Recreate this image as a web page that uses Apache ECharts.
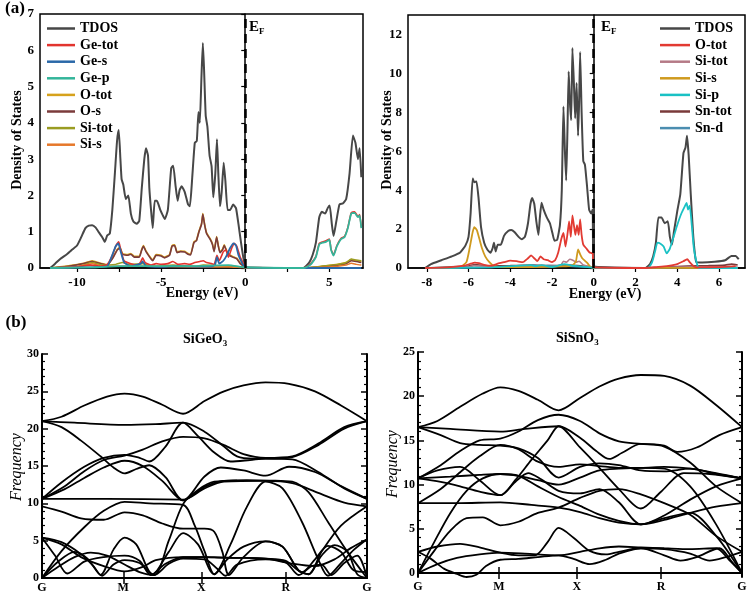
<!DOCTYPE html>
<html><head><meta charset="utf-8">
<script src="https://cdn.jsdelivr.net/npm/echarts@6/dist/echarts.min.js"></script>
<style>html,body{margin:0;padding:0;background:#fff}#c{width:750px;height:594px}</style>
</head><body><div id="c"></div>
<script>
// ---------- (a) SiGeO3 DOS : [energy eV, states] ----------
const tdosGe = [[-11.6,0],[-11.3,0.12],[-11.0,0.25],[-10.6,0.38],[-10.3,0.5],[-10.0,0.62],[-9.75,0.85],[-9.5,1.1],[-9.3,1.17],[-9.1,1.18],[-8.9,1.12],[-8.7,0.98],[-8.5,0.85],[-8.35,0.72],[-8.2,0.9],[-8.05,0.95],[-7.9,1.6],[-7.75,2.6],[-7.62,3.5],[-7.52,3.8],[-7.42,3.0],[-7.35,2.45],[-7.25,2.3],[-7.1,1.9],[-6.95,2.0],[-6.8,1.5],[-6.65,1.28],[-6.45,1.22],[-6.3,1.3],[-6.15,2.2],[-6.0,3.0],[-5.9,3.3],[-5.78,3.1],[-5.7,2.2],[-5.6,1.6],[-5.5,1.1],[-5.38,1.85],[-5.25,1.85],[-5.05,1.6],[-4.9,1.45],[-4.78,1.35],[-4.6,1.6],[-4.4,2.75],[-4.28,2.82],[-4.15,2.3],[-4.02,1.85],[-3.9,2.15],[-3.78,2.25],[-3.6,2.1],[-3.4,1.75],[-3.29,1.7],[-3.15,2.5],[-3.0,3.45],[-2.88,3.5],[-2.78,4.3],[-2.7,4.0],[-2.6,5.3],[-2.52,6.2],[-2.45,5.5],[-2.35,4.2],[-2.25,3.9],[-2.12,3.1],[-2.0,2.8],[-1.9,1.95],[-1.78,2.6],[-1.68,3.55],[-1.6,2.6],[-1.5,1.7],[-1.4,2.1],[-1.28,2.9],[-1.18,2.4],[-1.05,1.6],[-0.9,1.6],[-0.72,1.75],[-0.55,1.65],[-0.4,1.2],[-0.25,0.7],[-0.1,0.25],[0,0.05],[0.1,0],[3.45,0],[3.8,0.15],[4.0,0.35],[4.2,0.7],[4.4,1.4],[4.55,1.55],[4.75,1.5],[4.9,1.65],[5.02,1.72],[5.15,1.2],[5.25,0.88],[5.4,1.25],[5.6,1.75],[5.8,1.78],[6.0,1.9],[6.2,2.6],[6.4,3.65],[6.55,3.45],[6.7,3.0],[6.8,3.3],[6.9,2.5]];
const geTot = [[-11.6,0],[-10,0.03],[-9.2,0.08],[-8.6,0.05],[-8.2,0.1],[-7.9,0.35],[-7.65,0.65],[-7.52,0.72],[-7.4,0.5],[-7.2,0.2],[-6.8,0.12],[-6.4,0.08],[-6.2,0.18],[-6.1,0.28],[-5.95,0.15],[-5.6,0.08],[-5.3,0.12],[-5.0,0.1],[-4.6,0.12],[-4.3,0.18],[-4.0,0.1],[-3.6,0.12],[-3.3,0.1],[-3.0,0.15],[-2.7,0.18],[-2.5,0.2],[-2.3,0.15],[-2.0,0.12],[-1.85,0.1],[-1.68,0.35],[-1.55,0.2],[-1.3,0.45],[-1.15,0.5],[-1.0,0.3],[-0.8,0.55],[-0.65,0.68],[-0.5,0.6],[-0.3,0.3],[-0.1,0.12],[0,0.05],[0.1,0],[3.45,0],[3.6,0.02],[3.9,0.12],[4.2,0.32],[4.4,0.68],[4.6,0.72],[4.8,0.75],[5.0,0.8],[5.1,0.52],[5.25,0.36],[5.45,0.62],[5.7,0.82],[5.9,0.87],[6.1,1.12],[6.3,1.52],[6.5,1.55],[6.7,1.42],[6.8,1.47],[6.9,1.12]];
const geS = [[-11.6,0],[-9,0.02],[-8.2,0.05],[-7.95,0.3],[-7.7,0.6],[-7.55,0.68],[-7.4,0.45],[-7.2,0.15],[-6.8,0.05],[-6.2,0.12],[-6.1,0.18],[-5.9,0.05],[-5,0.03],[-4.3,0.05],[-3,0.04],[-2,0.04],[-1.8,0.08],[-1.68,0.3],[-1.55,0.12],[-1.3,0.2],[-1.1,0.35],[-0.9,0.55],[-0.7,0.68],[-0.55,0.62],[-0.4,0.35],[-0.2,0.15],[0,0.02],[6.9,0]];
const geP = [[-11.6,0],[-9,0.02],[-7.5,0.05],[-6,0.05],[-4,0.05],[-2.5,0.06],[-1,0.08],[0,0.02],[3.5,0],[3.9,0.1],[4.2,0.3],[4.4,0.65],[4.6,0.7],[4.8,0.72],[5.0,0.78],[5.1,0.5],[5.25,0.34],[5.45,0.6],[5.7,0.8],[5.9,0.85],[6.1,1.1],[6.3,1.5],[6.5,1.52],[6.7,1.4],[6.8,1.45],[6.9,1.1]];
const oTotGe = [[-11.6,0],[-10.5,0.06],[-9.6,0.13],[-9.1,0.2],[-8.6,0.13],[-8.2,0.09],[-7.9,0.27],[-7.6,0.52],[-7.45,0.57],[-7.3,0.4],[-7.0,0.37],[-6.8,0.4],[-6.6,0.32],[-6.3,0.32],[-6.15,0.52],[-6.05,0.62],[-5.9,0.47],[-5.6,0.27],[-5.5,0.22],[-5.3,0.37],[-5.0,0.35],[-4.8,0.3],[-4.5,0.37],[-4.35,0.62],[-4.2,0.64],[-4.05,0.44],[-3.85,0.47],[-3.6,0.46],[-3.4,0.4],[-3.25,0.38],[-3.05,0.72],[-2.9,0.77],[-2.75,1.02],[-2.6,1.22],[-2.52,1.5],[-2.42,1.22],[-2.3,0.97],[-2.1,0.82],[-1.95,0.67],[-1.85,0.47],[-1.7,0.87],[-1.6,0.62],[-1.5,0.44],[-1.35,0.52],[-1.25,0.64],[-1.1,0.47],[-0.95,0.37],[-0.75,0.32],[-0.5,0.27],[-0.3,0.14],[-0.1,0.06],[0,0.02],[3.5,0],[4.5,0.04],[5.5,0.1],[6.0,0.15],[6.3,0.23],[6.6,0.2],[6.9,0.18]];
const oSGe = [[-11.6,0],[-10.5,0.05],[-9.6,0.12],[-9.1,0.18],[-8.6,0.12],[-8.2,0.08],[-7.9,0.25],[-7.6,0.5],[-7.45,0.55],[-7.3,0.38],[-7.0,0.35],[-6.8,0.38],[-6.6,0.3],[-6.3,0.3],[-6.15,0.5],[-6.05,0.6],[-5.9,0.45],[-5.6,0.25],[-5.5,0.2],[-5.3,0.35],[-5.0,0.33],[-4.8,0.28],[-4.5,0.35],[-4.35,0.6],[-4.2,0.62],[-4.05,0.42],[-3.85,0.45],[-3.6,0.44],[-3.4,0.38],[-3.25,0.36],[-3.05,0.7],[-2.9,0.75],[-2.75,1.0],[-2.6,1.2],[-2.52,1.48],[-2.42,1.2],[-2.3,0.95],[-2.1,0.8],[-1.95,0.65],[-1.85,0.45],[-1.7,0.85],[-1.6,0.6],[-1.5,0.42],[-1.35,0.5],[-1.25,0.62],[-1.1,0.45],[-0.95,0.35],[-0.75,0.3],[-0.5,0.25],[-0.3,0.12],[-0.1,0.05],[0,0.02],[3.5,0],[4.5,0.03],[5.5,0.08],[6.0,0.12],[6.3,0.2],[6.6,0.18],[6.9,0.15]];
const siTotGe = [[-11.6,0],[-10,0.03],[-9.1,0.15],[-8.5,0.08],[-7.7,0.1],[-7.3,0.15],[-6.9,0.1],[-6.1,0.12],[-5.5,0.05],[-4.3,0.08],[-3,0.05],[-2.5,0.08],[-1.5,0.06],[-0.6,0.05],[0,0.01],[3.6,0],[4.5,0.05],[5.5,0.1],[6.0,0.15],[6.3,0.25],[6.6,0.22],[6.9,0.2]];
const siSGe = [[-11.6,0],[-10,0.04],[-9.1,0.12],[-8.5,0.06],[-7.5,0.05],[-6.5,0.05],[-5,0.04],[-3,0.03],[-1,0.03],[0,0.01],[3.6,0],[4.5,0.02],[5.5,0.05],[6.0,0.08],[6.3,0.13],[6.6,0.1],[6.9,0.08]];

// ---------- (a) SiSnO3 DOS ----------
const tdosSn = [[-8.08,0],[-7.8,0.2],[-7.3,0.4],[-6.8,0.6],[-6.4,0.8],[-6.15,1.15],[-6.0,1.6],[-5.9,2.8],[-5.8,4.6],[-5.72,4.4],[-5.62,4.45],[-5.52,3.6],[-5.4,2.1],[-5.25,1.3],[-5.1,0.95],[-4.95,0.78],[-4.85,1.0],[-4.78,1.3],[-4.7,0.85],[-4.6,1.2],[-4.45,1.2],[-4.3,1.65],[-4.1,1.9],[-3.95,1.95],[-3.8,1.85],[-3.6,1.6],[-3.45,1.48],[-3.3,1.6],[-3.15,2.3],[-3.03,3.3],[-2.95,3.6],[-2.85,3.3],[-2.75,2.4],[-2.65,1.7],[-2.58,2.6],[-2.5,3.35],[-2.4,3.0],[-2.25,2.6],[-2.1,2.3],[-1.98,1.8],[-1.88,1.4],[-1.75,1.45],[-1.62,2.2],[-1.53,4.0],[-1.45,8.3],[-1.38,6.0],[-1.32,4.5],[-1.26,7.0],[-1.2,10.1],[-1.14,8.5],[-1.08,7.6],[-1.02,11.3],[-0.95,9.5],[-0.89,7.7],[-0.82,9.5],[-0.75,6.8],[-0.7,8.5],[-0.65,11.1],[-0.58,8.0],[-0.5,5.5],[-0.42,5.3],[-0.32,4.2],[-0.22,3.0],[-0.12,2.8],[-0.05,3.0],[0,0.1],[2.48,0],[2.7,0.2],[2.85,0.6],[2.98,1.3],[3.1,2.6],[3.25,2.6],[3.4,2.3],[3.55,2.4],[3.65,1.6],[3.75,1.2],[3.85,1.9],[4.0,2.9],[4.15,3.8],[4.3,5.9],[4.4,6.2],[4.47,6.8],[4.55,5.8],[4.65,3.8],[4.78,1.5],[4.92,0.3],[5.2,0.28],[5.8,0.32],[6.3,0.4],[6.6,0.62],[6.8,0.62],[6.95,0.45]];
const oTotSn = [[-8.08,0],[-7,0.03],[-6.2,0.12],[-5.9,0.22],[-5.7,0.28],[-5.5,0.25],[-5.2,0.15],[-4.9,0.12],[-4.6,0.22],[-4.3,0.3],[-4.0,0.38],[-3.7,0.35],[-3.4,0.3],[-3.15,0.5],[-3.0,0.65],[-2.85,0.5],[-2.7,0.35],[-2.55,0.6],[-2.4,0.45],[-2.2,0.4],[-2.0,0.3],[-1.85,0.4],[-1.7,0.8],[-1.55,1.5],[-1.45,1.8],[-1.35,1.1],[-1.25,1.8],[-1.18,2.4],[-1.1,1.6],[-1.02,2.7],[-0.95,2.2],[-0.88,1.7],[-0.8,2.2],[-0.72,1.7],[-0.65,2.5],[-0.58,1.7],[-0.5,1.2],[-0.35,1.0],[-0.2,0.8],[-0.05,0.75],[0,0.05],[2.5,0],[3.0,0.05],[3.5,0.1],[4.0,0.2],[4.3,0.35],[4.48,0.45],[4.6,0.3],[4.8,0.08],[5.0,0.03],[6.0,0.05],[6.8,0.1]];
const siTotSn = [[-8.08,0],[-6,0.05],[-5.75,0.12],[-5.5,0.1],[-4,0.05],[-3,0.08],[-2.5,0.06],[-1.6,0.1],[-1.45,0.35],[-1.3,0.3],[-1.15,0.45],[-1.0,0.4],[-0.85,0.3],[-0.7,0.35],[-0.5,0.15],[0,0.02],[2.6,0],[4,0.05],[6,0.05],[6.9,0.05]];
const siSSn = [[-8.08,0],[-6.4,0.05],[-6.1,0.3],[-5.95,1.0],[-5.8,1.85],[-5.72,2.1],[-5.6,1.95],[-5.48,1.5],[-5.35,1.0],[-5.2,0.6],[-5.0,0.3],[-4.8,0.12],[-4.5,0.05],[-3,0.05],[-1.5,0.08],[-1.0,0.15],[-0.85,0.35],[-0.75,0.95],[-0.65,0.7],[-0.55,0.5],[-0.45,0.4],[-0.3,0.25],[-0.15,0.05],[0,0.02],[6.9,0]];
const siPSn = [[-8.08,0],[-5,0.03],[-3,0.15],[-2.8,0.1],[-2.5,0.15],[-2,0.05],[-1.4,0.2],[-1,0.12],[0,0.02],[2.6,0],[2.8,0.3],[2.95,0.9],[3.05,1.3],[3.2,1.25],[3.35,1.1],[3.5,0.75],[3.65,1.0],[3.8,1.5],[4.0,2.2],[4.2,2.8],[4.38,3.2],[4.45,3.35],[4.52,3.0],[4.6,3.2],[4.7,2.2],[4.8,1.0],[4.95,0.2],[5.05,0],[6.9,0]];
const snTot = [[-8.08,0],[-7,0.05],[-6,0.1],[-5.7,0.18],[-5,0.1],[-4,0.12],[-3,0.15],[-2,0.12],[-1.2,0.15],[-0.5,0.1],[0,0.05],[2.5,0],[3.5,0.05],[4.5,0.1],[5.5,0.12],[6.3,0.15],[6.6,0.2],[6.9,0.15]];
const snD = [[-8.08,0],[-6,0.02],[-4,0.05],[-3.2,0.1],[-2.9,0.15],[-2.6,0.1],[-2.2,0.12],[-1.5,0.1],[-1,0.08],[0,0.02],[6.9,0]];

// ---------- (b) phonon dispersions : [path position 0..1, frequency] ----------
const kTickPos = [0, 0.25, 0.49, 0.75, 1];
const kTickLab = ['G', 'M', 'X', 'R', 'G'];
const bandsGe = [
 [[0,21],[.06,21.6],[.13,23.1],[.2,24.3],[.254,24.7],[.31,24.3],[.37,23.2],[.434,22.0],[.5,23.7],[.56,25.0],[.62,25.8],[.688,26.2],[.76,26.0],[.84,25.0],[.92,23.1],[1,21]],
 [[0,21],[.1,20.8],[.254,20.5],[.35,20.6],[.434,20.8],[.5,19.6],[.56,17.6],[.6,16.3],[.65,16.0],[.688,16.0],[.77,16.2],[.85,17.8],[.93,20.0],[1,21]],
 [[0,21],[.06,20.2],[.12,18.4],[.18,16.3],[.22,14.8],[.254,14.0],[.29,14.6],[.33,15.1],[.38,13.5],[.434,10.4],[.5,12.2],[.56,13.0],[.63,13.1],[.7,13.05],[.77,12.9],[.82,11.5],[.88,7.5],[.94,3.5],[1,0]],
 [[0,10.6],[.06,12.8],[.13,14.9],[.19,16.1],[.254,16.5],[.3,16.1],[.33,15.6],[.38,17.6],[.434,20.8],[.48,19.0],[.53,16.8],[.58,15.6],[.64,15.8],[.688,16.0],[.77,15.9],[.85,14.2],[.93,12.0],[1,10.6]],
 [[0,10.6],[.07,12.3],[.13,14.3],[.19,15.8],[.254,16.4],[.31,17.2],[.37,18.3],[.434,18.9],[.5,18.7],[.56,17.8],[.62,16.6],[.688,16.1],[.77,16.3],[.85,18.0],[.93,20.2],[1,21]],
 [[0,10.6],[.07,11.9],[.13,13.4],[.19,14.8],[.254,15.7],[.31,15.0],[.37,13.0],[.434,10.4],[.5,13.6],[.55,14.8],[.62,14.4],[.688,13.7],[.76,14.9],[.84,14.2],[.92,12.3],[1,10.6]],
 [[0,10.6],[.2,10.6],[.434,10.5],[.5,12.0],[.56,12.9],[.688,13.0],[.77,12.7],[.85,11.4],[.93,10.1],[1,9.6]],
 [[0,0],[.06,3.6],[.13,6.8],[.19,9.0],[.254,10.2],[.33,10.0],[.434,9.8],[.47,7.0],[.5,3.6],[.53,0.5],[.58,4.5],[.63,9.5],[.688,12.9],[.74,12.0],[.8,7.5],[.85,2.5],[.88,0.3],[.92,2.0],[.96,3.8],[1,5.2]],
 [[0,9.6],[.06,8.9],[.12,8.0],[.19,7.8],[.254,8.8],[.31,8.4],[.37,7.3],[.434,6.6],[.5,6.6],[.53,6.2],[.555,3.5],[.575,0.4],[.62,2.8],[.688,4.9],[.74,4.2],[.79,1.0],[.82,0.5],[.86,3.5],[.92,7.0],[1,9.6]],
 [[0,5.4],[.06,4.8],[.12,3.2],[.16,1.5],[.18,0.4],[.22,3.8],[.254,5.4],[.29,4.5],[.34,0.5],[.39,3.5],[.434,6.0],[.48,4.5],[.53,0.5],[.57,2.5],[.62,4.2],[.688,4.9],[.74,4.2],[.79,1.0],[.82,0.5],[.86,3.0],[.9,4.4],[.94,3.5],[.97,0.5],[1,0]],
 [[0,5.4],[.04,3.0],[.078,0.6],[.13,2.2],[.19,2.8],[.254,3.0],[.3,2.3],[.335,0.4],[.38,1.9],[.434,2.8],[.5,2.8],[.56,2.7],[.62,2.7],[.688,2.6],[.75,2.3],[.8,0.8],[.84,2.5],[.88,4.3],[.92,3.5],[.96,1.0],[1,0.8]],
 [[0,5.4],[.06,4.5],[.12,2.8],[.19,1.6],[.254,0.9],[.31,1.5],[.35,2.4],[.434,2.8],[.5,2.8],[.6,2.7],[.688,2.6],[.76,2.0],[.84,1.6],[.9,2.5],[.95,4.0],[1,5.2]],
 [[0,0],[.05,2.2],[.1,3.5],[.14,2.6],[.185,0.3],[.22,1.8],[.254,2.4],[.3,2.0],[.345,0.4],[.39,1.9],[.434,2.6],[.5,2.5],[.54,1.2],[.565,0.3],[.6,1.8],[.688,2.5],[.75,2.1],[.79,0.4],[.83,1.6],[.86,1.8],[.89,0.4],[.93,2.0],[.97,3.0],[1,0]],
 [[0,0],[.05,1.5],[.1,2.8],[.15,3.4],[.2,3.0],[.254,1.8],[.3,0.8],[.345,0.4],[.39,5.0],[.434,9.9],[.48,11.8],[.53,12.9],[.6,13.05]]
];
const bandsSn = [
 [[0,16.5],[.06,17.2],[.13,18.8],[.2,20.3],[.254,21.0],[.31,20.6],[.37,19.6],[.434,18.4],[.5,19.8],[.56,21.1],[.62,22.0],[.688,22.4],[.76,22.3],[.84,21.2],[.92,19.0],[1,16.5]],
 [[0,16.5],[.1,16.3],[.254,16.0],[.33,16.3],[.434,16.6],[.5,15.3],[.55,13.8],[.59,12.9],[.63,13.6],[.688,14.6],[.76,14.4],[.8,13.7],[.86,14.2],[.93,15.6],[1,16.5]],
 [[0,16.5],[.07,15.6],[.13,14.7],[.19,14.5],[.254,14.4],[.31,14.1],[.37,13.0],[.434,10.8],[.5,12.0],[.56,12.4],[.62,12.2],[.688,11.6],[.76,11.5],[.84,11.8],[.92,11.2],[1,10.7]],
 [[0,10.7],[.07,12.2],[.13,13.8],[.19,15.0],[.254,15.2],[.31,16.0],[.37,17.3],[.434,17.9],[.5,17.2],[.56,15.8],[.62,14.9],[.688,14.6],[.76,14.3],[.84,12.5],[.92,9.8],[1,7.9]],
 [[0,7.9],[.07,9.5],[.13,11.4],[.19,13.2],[.254,14.5],[.31,14.0],[.37,12.6],[.434,12.0],[.5,12.3],[.56,12.1],[.62,11.9],[.688,11.9],[.76,12.0],[.84,11.8],[.92,11.3],[1,10.7]],
 [[0,10.7],[.07,10.3],[.13,9.8],[.19,9.2],[.254,8.8],[.3,10.5],[.35,12.8],[.4,15.0],[.434,16.6],[.5,14.2],[.56,11.9],[.62,9.5],[.688,7.3],[.75,9.2],[.82,11.3],[.9,11.2],[1,10.7]],
 [[0,10.7],[.1,10.9],[.19,11.1],[.254,11.2],[.31,11.0],[.37,10.5],[.434,10.0],[.5,10.8],[.56,11.6],[.62,11.8],[.688,11.9],[.76,11.8],[.84,9.8],[.92,5.5],[1,0]],
 [[0,10.7],[.06,11.6],[.13,12.0],[.19,10.5],[.254,8.8],[.3,10.3],[.34,11.3],[.38,10.6],[.434,9.3],[.5,9.0],[.56,9.5],[.62,8.0],[.688,5.5],[.76,6.2],[.84,6.8],[.92,4.2],[1,0]],
 [[0,7.9],[.12,7.9],[.254,8.0],[.35,7.7],[.434,7.4],[.5,6.9],[.56,6.2],[.62,5.7],[.688,5.5],[.76,6.0],[.84,6.8],[.92,7.5],[1,7.9]],
 [[0,0],[.05,3.5],[.1,6.8],[.15,9.3],[.2,10.7],[.254,11.2],[.31,11.0],[.37,9.8],[.434,8.6],[.5,7.6],[.56,6.6],[.62,5.9],[.688,5.5],[.76,6.5],[.84,8.3],[.92,9.8],[1,10.7]],
 [[0,0],[.05,2.5],[.1,4.8],[.15,6.2],[.2,6.3],[.254,5.4],[.31,5.8],[.37,6.8],[.434,7.4],[.5,8.5],[.56,9.3],[.62,9.5],[.688,8.9],[.76,7.9],[.84,6.6],[.92,4.2],[1,2.4]],
 [[0,2.4],[.06,3.0],[.13,3.3],[.19,2.9],[.254,2.3],[.31,2.0],[.36,2.0],[.4,3.5],[.434,5.1],[.48,4.0],[.53,2.5],[.58,2.1],[.62,2.4],[.688,2.8],[.76,2.7],[.84,2.2],[.9,1.4],[.95,1.8],[1,2.4]],
 [[0,0],[.06,1.0],[.12,1.7],[.19,2.1],[.254,2.3],[.33,2.2],[.434,2.0],[.5,2.4],[.56,2.8],[.62,3.0],[.688,2.9],[.76,2.8],[.84,2.7],[.92,2.8],[.96,1.5],[1,0]],
 [[0,2.4],[.04,1.6],[.08,0.5],[.12,-0.1],[.15,-0.45],[.18,-0.2],[.21,0.8],[.254,1.5],[.31,1.6],[.37,1.8],[.434,2.0],[.48,1.6],[.53,1.0],[.58,1.5],[.62,2.2],[.688,2.8],[.76,2.0],[.81,1.4],[.86,1.8],[.93,2.8],[.97,1.2],[1,0]]
];

const SERIF = '"Liberation Serif","Times New Roman",serif';
const axisLineBlack = {show: true, lineStyle: {color: '#000', width: 1.5}};
const lblStyle = {color: '#000', fontFamily: SERIF, fontWeight: 'bold', fontSize: 13};

const xAxes = [
 {gridIndex: 0, type: 'value', min: -12.2, max: 7, axisLine: axisLineBlack, splitLine: {show: false},
  axisTick: {customValues: [-10, -7.5, -5, -2.5, 0, 2.5, 5], length: 4, lineStyle: {color: '#000', width: 1.2}},
  axisLabel: Object.assign({customValues: [-10, -5, 0, 5], margin: 8}, lblStyle)},
 {gridIndex: 1, type: 'value', min: -8.9, max: 7.25, axisLine: axisLineBlack, splitLine: {show: false},
  axisTick: {customValues: [-8, -6, -4, -2, 0, 2, 4, 6], length: 4, lineStyle: {color: '#000', width: 1.2}},
  axisLabel: Object.assign({customValues: [-8, -6, -4, -2, 0, 2, 4, 6], margin: 8}, lblStyle)}
];
const yAxes = [
 {gridIndex: 0, type: 'value', min: 0, max: 7, interval: 1, axisLine: axisLineBlack, splitLine: {show: false},
  axisTick: {show: true, length: 4, lineStyle: {color: '#000', width: 1.2}},
  axisLabel: Object.assign({margin: 6}, lblStyle)},
 {gridIndex: 1, type: 'value', min: 0, max: 13, axisLine: axisLineBlack, splitLine: {show: false},
  axisTick: {customValues: [0, 2, 4, 6, 8, 10, 12], length: 4, lineStyle: {color: '#000', width: 1.2}},
  axisLabel: Object.assign({customValues: [0, 2, 4, 6, 8, 10, 12], margin: 6}, lblStyle)}
];
[2, 3].forEach(g => {
  const bottom = {gridIndex: g, type: 'value', min: 0, max: 1, position: 'bottom',
    axisLine: {show: true, lineStyle: {color: '#000', width: 2}}, splitLine: {show: false},
    axisTick: {inside: true, customValues: kTickPos.slice(1, 4), length: 6, lineStyle: {color: '#000', width: 1.5}},
    axisLabel: {customValues: kTickPos, margin: 4, color: '#000', fontFamily: SERIF, fontWeight: 'bold', fontSize: 12,
      formatter: v => kTickLab[kTickPos.indexOf(v)]}};
  const top = {gridIndex: g, type: 'value', min: 0, max: 1, position: 'top',
    axisLine: {show: true, lineStyle: {color: '#000', width: 2}}, splitLine: {show: false},
    axisTick: {inside: true, customValues: kTickPos.slice(1, 4), length: 6, lineStyle: {color: '#000', width: 1.5}},
    axisLabel: {show: false}};
  xAxes.push(bottom, top);
});
const geMajor = [0, 5, 10, 15, 20, 25, 30];
const geMinor = []; for (let i = 0; i <= 30; i++) if (i % 5) geMinor.push(i);
const snMajor = [0, 5, 10, 15, 20, 25];
const snMinor = []; for (let i = 0; i <= 25; i++) if (i % 5) snMinor.push(i);
function phonY(g, min, max, major, minor) {
  const base = {gridIndex: g, type: 'value', min: min, max: max, splitLine: {show: false}};
  return [
    Object.assign({}, base, {position: 'left', axisLine: {show: true, lineStyle: {color: '#000', width: 2}},
      axisTick: {inside: true, customValues: major, length: 6, lineStyle: {color: '#000', width: 1.5}},
      axisLabel: {customValues: major, margin: 3, color: '#000', fontFamily: SERIF, fontWeight: 'bold', fontSize: 12}}),
    Object.assign({}, base, {position: 'left', axisLine: {show: false},
      axisTick: {inside: true, customValues: minor, length: 3, lineStyle: {color: '#000', width: 1.2}}, axisLabel: {show: false}}),
    Object.assign({}, base, {position: 'right', axisLine: {show: true, lineStyle: {color: '#000', width: 2}},
      axisTick: {inside: true, customValues: major, length: 6, lineStyle: {color: '#000', width: 1.5}}, axisLabel: {show: false}}),
    Object.assign({}, base, {position: 'right', axisLine: {show: false},
      axisTick: {inside: true, customValues: minor, length: 3, lineStyle: {color: '#000', width: 1.2}}, axisLabel: {show: false}})
  ];
}
yAxes.push(...phonY(2, 0, 30, geMajor, geMinor));
yAxes.push(...phonY(3, -0.45, 25, snMajor, snMinor));

const efLine = {symbol: ['none', 'none'], silent: true, label: {show: false},
  lineStyle: {color: '#000', type: [9, 6], width: 2.5}, data: [{xAxis: 0}]};

function dosSeries(name, data, color, xi, width, extra) {
  return Object.assign({name: name, type: 'line', xAxisIndex: xi, yAxisIndex: xi, data: data,
    symbol: 'none', smooth: 0.15, lineStyle: {color: color, width: width || 1.6}, itemStyle: {color: color}}, extra || {});
}
const series = [
  dosSeries('TDOS', tdosGe, '#474747', 0, 2, {markLine: efLine}),
  dosSeries('O-tot', oTotGe, '#d6a21c', 0, 1.6),
  dosSeries('O-s', oSGe, '#7b3b3b', 0, 1.6),
  dosSeries('Si-tot', siTotGe, '#9a9c22', 0, 1.5),
  dosSeries('Si-s', siSGe, '#e6782a', 0, 1.5),
  dosSeries('Ge-tot', geTot, '#e2342e', 0, 1.6),
  dosSeries('Ge-s', geS, '#2a68a8', 0, 1.8),
  dosSeries('Ge-p', geP, '#33b59a', 0, 1.8),
  dosSeries('TDOS#2', tdosSn, '#474747', 1, 2, {markLine: efLine}),
  dosSeries('Sn-tot', snTot, '#7a3a3a', 1, 1.6),
  dosSeries('Sn-d', snD, '#4b8db0', 1, 1.6),
  dosSeries('Si-tot#2', siTotSn, '#b57a86', 1, 1.6),
  dosSeries('Si-s#2', siSSn, '#cf9a1e', 1, 1.8),
  dosSeries('Si-p', siPSn, '#19c1c4', 1, 1.8),
  dosSeries('O-tot#2', oTotSn, '#e23a32', 1, 1.8)
];
bandsGe.forEach((b, i) => series.push({name: 'ge' + i, type: 'line', xAxisIndex: 2, yAxisIndex: 2, data: b,
  symbol: 'none', smooth: 0.3, silent: true, lineStyle: {color: '#000', width: 1.8}}));
bandsSn.forEach((b, i) => series.push({name: 'sn' + i, type: 'line', xAxisIndex: 4, yAxisIndex: 6, data: b,
  symbol: 'none', smooth: 0.3, silent: true, lineStyle: {color: '#000', width: 1.8}}));

const legendText = {color: '#000', fontFamily: SERIF, fontWeight: 'bold', fontSize: 14, lineHeight: 15};
const txt = (s, x, y, font, extra) => Object.assign({type: 'text', x: x, y: y,
  style: {text: s, font: font, fill: '#000', align: 'center', verticalAlign: 'middle'}}, extra || {});
const efRich = {e: {fontFamily: SERIF, fontWeight: 'bold', fontSize: 15, fill: '#000'},
                f: {fontFamily: SERIF, fontWeight: 'bold', fontSize: 9, fill: '#000', padding: [8, 0, 0, 0]}};
const subRich = {e: {fontFamily: SERIF, fontWeight: 'bold', fontSize: 14, fill: '#000'},
                 f: {fontFamily: SERIF, fontWeight: 'bold', fontSize: 9, fill: '#000', padding: [8, 0, 0, 0]}};

const option = {
  backgroundColor: '#fff',
  animation: false,
  grid: [
    {left: 40, top: 14, width: 323, height: 254, show: true, borderColor: '#000', borderWidth: 1.5, backgroundColor: 'transparent'},
    {left: 408, top: 15, width: 337, height: 253, show: true, borderColor: '#000', borderWidth: 1.5, backgroundColor: 'transparent'},
    {left: 42, top: 354, width: 325, height: 226},
    {left: 418, top: 352, width: 324, height: 225}
  ],
  xAxis: xAxes,
  yAxis: yAxes,
  legend: [
    {data: ['TDOS', 'Ge-tot', 'Ge-s', 'Ge-p', 'O-tot', 'O-s', 'Si-tot', 'Si-s'], left: 47, top: 21, padding: 0, orient: 'vertical',
     icon: 'rect', itemWidth: 28, itemHeight: 2.5, itemGap: 1.6, textStyle: legendText, formatter: n => n.split('#')[0]},
    {data: ['TDOS#2', 'O-tot#2', 'Si-tot#2', 'Si-s#2', 'Si-p', 'Sn-tot', 'Sn-d'], left: 660, top: 21, padding: 0, orient: 'vertical',
     icon: 'rect', itemWidth: 30, itemHeight: 2.5, itemGap: 1.6, textStyle: legendText, formatter: n => n.split('#')[0]}
  ],
  graphic: [
    txt('(a)', 15, 9, 'bold 17px ' + SERIF),
    txt('(b)', 16, 323, 'bold 17px ' + SERIF),
    {type: 'text', x: 249, y: 19, style: {text: '{e|E}{f|F}', rich: efRich}},
    {type: 'text', x: 601, y: 19, style: {text: '{e|E}{f|F}', rich: efRich}},
    txt('Energy (eV)', 202, 293, 'bold 14px ' + SERIF),
    txt('Energy (eV)', 605, 294, 'bold 14px ' + SERIF),
    txt('Density of States', 17, 140, 'bold 14px ' + SERIF, {rotation: Math.PI / 2}),
    txt('Density of States', 387, 140, 'bold 14px ' + SERIF, {rotation: Math.PI / 2}),
    {type: 'text', x: 183, y: 331, style: {text: '{e|SiGeO}{f|3}', rich: subRich}},
    {type: 'text', x: 556, y: 330, style: {text: '{e|SiSnO}{f|3}', rich: subRich}},
    txt('Frequency', 17, 467, 'italic 16px ' + SERIF, {rotation: Math.PI / 2}),
    txt('Frequency', 393, 464, 'italic 16px ' + SERIF, {rotation: Math.PI / 2})
  ],
  series: series
};
const chart = echarts.init(document.getElementById('c'), null, {renderer: 'canvas'});
chart.setOption(option);
</script></body></html>
